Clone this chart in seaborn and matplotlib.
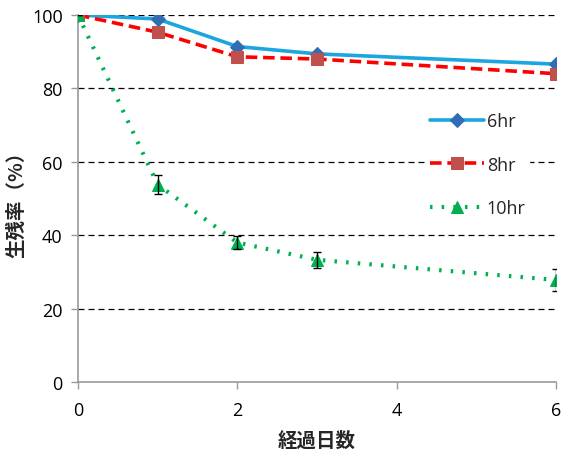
import matplotlib
matplotlib.use("Agg")
import matplotlib.pyplot as plt
import seaborn as sns
import pandas as pd

days = [0, 1, 2, 3, 6]
surv_6hr = [100.0, 98.9, 91.4, 89.4, 86.6]
surv_8hr = [100.0, 95.3, 88.6, 88.0, 84.0]
surv_10hr = [100.0, 53.8, 38.0, 33.3, 27.8]
err_10hr = [0.0, 2.5, 1.7, 2.2, 3.0]
series_labels = ["6hr", "8hr", "10hr"]

sns.set_theme(style="white")
plt.rcParams['font.family'] = ['Noto Sans CJK JP', 'DejaVu Sans']

fig = plt.figure(figsize=(5.63, 4.56), dpi=100)
ax = fig.add_axes([0.1385, 0.160, 0.849, 0.805])

styles = [
    dict(color="#1BA6E0", linestyle="-", marker="D", mfc="#2F6EB5", mec="#2F6EB5", ms=7, lw=2.6),
    dict(color="#FF0000", linestyle=(0, (3.2, 1.6)), marker="s", mfc="#C0504D", mec="#C0504D", ms=8, lw=2.6),
    dict(color="#00B050", linestyle=(0, (0.6, 2.2)), marker="^", mfc="#00B050", mec="#00B050", ms=8, lw=3.0),
]

all_vals = [surv_6hr, surv_8hr, surv_10hr]
for vals, lab, st in zip(all_vals, series_labels, styles):
    df = pd.DataFrame({"day": days, "val": vals})
    sns.lineplot(data=df, x="day", y="val", ax=ax, label=lab,
                 color=st["color"], linestyle=st["linestyle"], linewidth=st["lw"],
                 marker=st["marker"], markerfacecolor=st["mfc"],
                 markeredgecolor=st["mec"], markersize=st["ms"], zorder=3)

ax.errorbar(days, surv_10hr, yerr=err_10hr, fmt="none", ecolor="black",
            elinewidth=1.0, capsize=3, capthick=1.0, zorder=4)

ax.set_xlim(0, 6)
ax.set_ylim(0, 100)
ax.set_xticks([0, 2, 4, 6])
ax.set_yticks([0, 20, 40, 60, 80, 100])
for y in [20, 40, 60, 80, 100]:
    ax.axhline(y, color="black", linestyle=(0, (4.8, 3.2)), linewidth=0.9, zorder=1)

for side in ["top", "right"]:
    ax.spines[side].set_visible(False)
for side in ["left", "bottom"]:
    ax.spines[side].set_color("#999999")
    ax.spines[side].set_linewidth(1.2)

ax.tick_params(axis="both", which="major", length=5, width=1, color="#999999",
               labelsize=13, labelcolor="black", direction="out",
               left=True, bottom=True)
ax.tick_params(axis="x", pad=9)
ax.tick_params(axis="y", pad=6)
for t in ax.get_xticklabels() + ax.get_yticklabels():
    t.set_family(['Open Sans', 'DejaVu Sans'])

ax.set_xlabel("経過日数", fontsize=14, fontweight="bold", labelpad=8)
ax.set_ylabel("生残率（%）", fontsize=14, fontweight="bold", labelpad=4)

leg = ax.legend(loc="upper left", bbox_to_anchor=(0.71, 0.77), frameon=True,
                fontsize=13, handlelength=3.0, labelspacing=1.42,
                handletextpad=0.15, borderpad=0.2, framealpha=1.0)
leg.get_frame().set_edgecolor("white")
leg.get_frame().set_facecolor("white")
for t in leg.get_texts():
    t.set_family(['Open Sans', 'DejaVu Sans'])

fig.savefig("out.png", dpi=100)
